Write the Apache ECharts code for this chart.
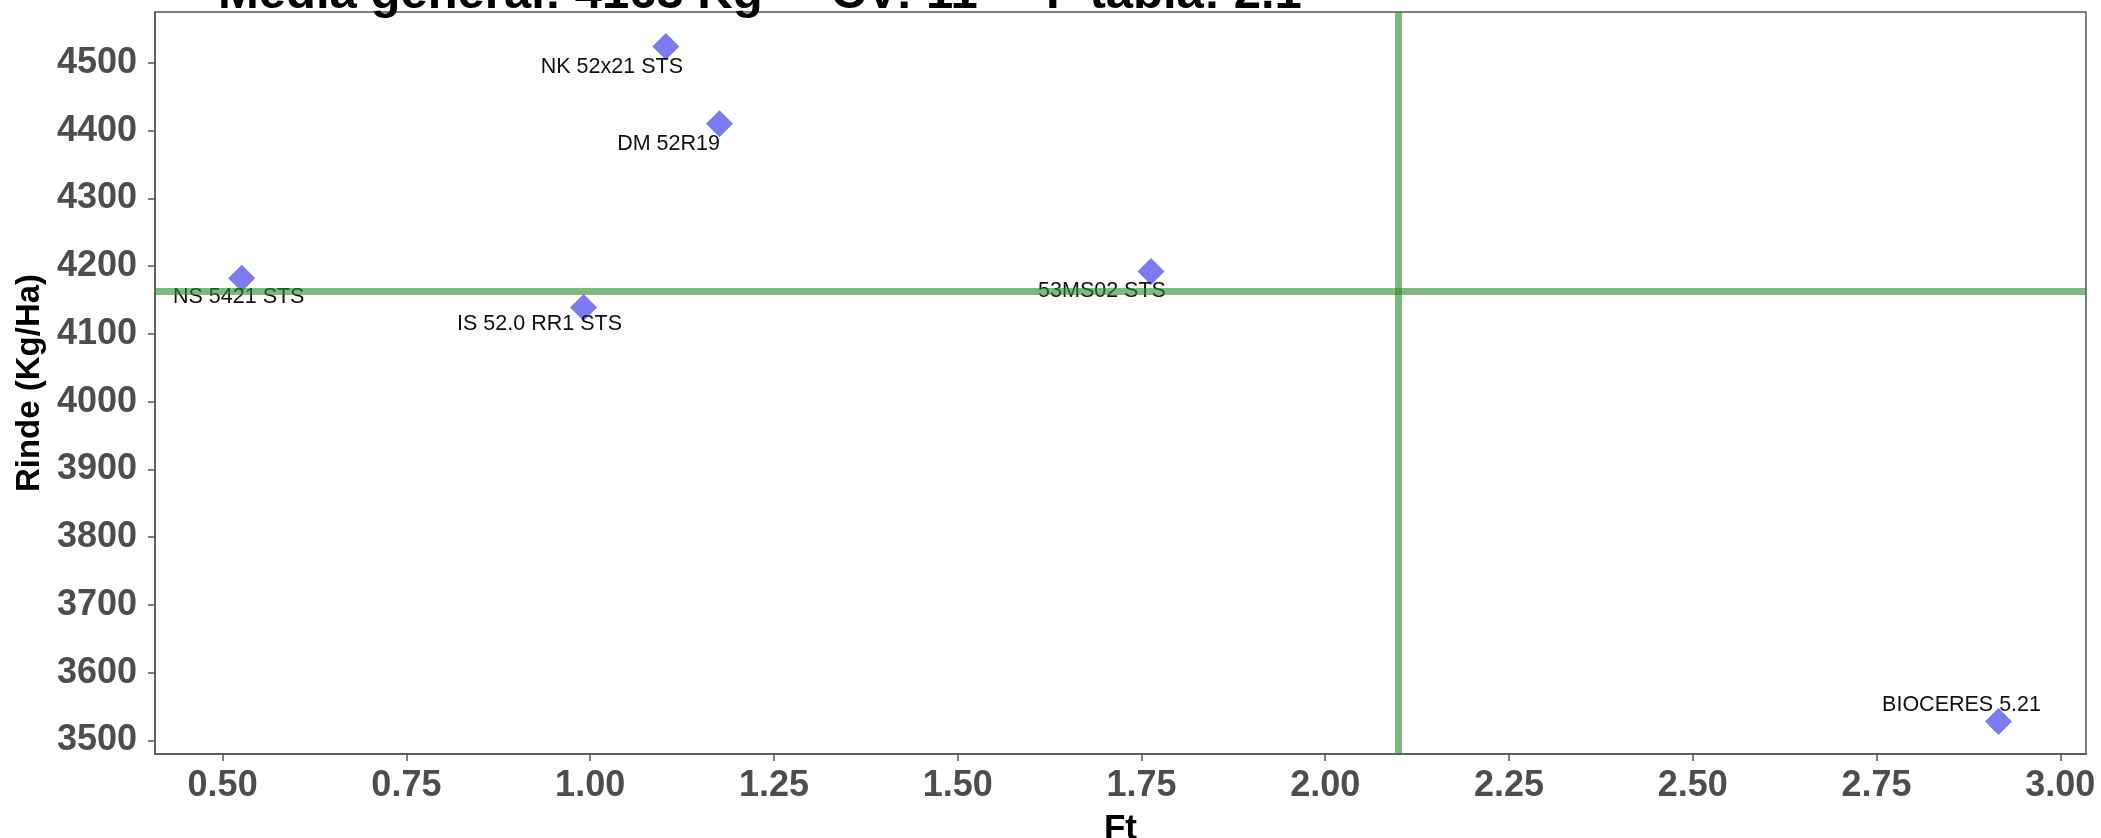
<!DOCTYPE html>
<html>
<head>
<meta charset="utf-8">
<script src="https://cdn.jsdelivr.net/npm/echarts@6/dist/echarts.min.js"></script>
<style>
html,body{margin:0;padding:0;background:#fff;}
#chart{width:2101px;height:838px;}
</style>
</head>
<body>
<div id="chart"></div>
<script>
// ---- data ----
const varieties = ['NK 52x21 STS', 'DM 52R19', 'NS 5421 STS', 'IS 52.0 RR1 STS', '53MS02 STS', 'BIOCERES 5.21'];
const ftValues = [1.103, 1.176, 0.526, 0.991, 1.763, 2.916];
const rindeValues = [4524, 4410, 4182, 4139, 4192, 3528];
const mediaGeneral = 4163;
const fTabla = 2.1;
const cv = 11;
const xTicks = [0.50, 0.75, 1.00, 1.25, 1.50, 1.75, 2.00, 2.25, 2.50, 2.75, 3.00];
const yTicks = [3500, 3600, 3700, 3800, 3900, 4000, 4100, 4200, 4300, 4400, 4500];

// ---- layout (label offsets from point centre, px) ----
const labelShift = [[-54, 21], [-51, 20], [-3, 19], [-44, 17], [-49, 20], [-37, -16]];
const SYMBOL = 27;

const FONT = "'Liberation Sans', Arial, sans-serif";
const chart = echarts.init(document.getElementById('chart'), null, {renderer: 'canvas'});

const points = varieties.map((n, i) => ({
  name: n,
  value: [ftValues[i], rindeValues[i]],
  label: {position: [SYMBOL / 2 + labelShift[i][0], SYMBOL / 2 + labelShift[i][1]]}
}));

chart.setOption({
  backgroundColor: '#ffffff',
  animation: false,
  title: {
    text: 'Media general: ' + mediaGeneral + ' Kg     CV: ' + cv + '     F tabla: ' + fTabla,
    left: 218,
    top: -30,
    padding: 0,
    textStyle: {fontFamily: FONT, fontWeight: 'bold', fontSize: 49, color: '#000', lineHeight: 49}
  },
  grid: {
    left: 155, right: 15, top: 12, bottom: 84,
    containLabel: false,
    outerBoundsMode: 'none',
    show: true, borderColor: '#555', borderWidth: 1.5, backgroundColor: '#fff'
  },
  xAxis: {
    type: 'value',
    min: 0.408, max: 3.035,
    name: 'Ft',
    nameLocation: 'middle',
    nameGap: 58,
    nameTextStyle: {fontFamily: FONT, fontWeight: 'bold', fontSize: 35, color: '#000'},
    splitLine: {show: false},
    axisLine: {show: true, onZero: false, lineStyle: {color: '#555', width: 1.5}},
    axisTick: {show: true, length: 7, customValues: xTicks, lineStyle: {color: '#555', width: 1.5}},
    axisLabel: {
      customValues: xTicks, margin: 14,
      formatter: v => v.toFixed(2),
      fontFamily: FONT, fontWeight: 'bold', fontSize: 36, color: '#4d4d4d'
    }
  },
  yAxis: {
    type: 'value',
    min: 3480, max: 4575,
    name: 'Rinde (Kg/Ha)',
    nameLocation: 'middle',
    nameGap: 103,
    nameTextStyle: {fontFamily: FONT, fontWeight: 'bold', fontSize: 33, color: '#000'},
    splitLine: {show: false},
    axisLine: {show: true, onZero: false, lineStyle: {color: '#555', width: 1.5}},
    axisTick: {show: true, length: 7, customValues: yTicks, lineStyle: {color: '#555', width: 1.5}},
    axisLabel: {
      customValues: yTicks, margin: 18,
      formatter: v => String(v),
      fontFamily: FONT, fontWeight: 'bold', fontSize: 36, color: '#4d4d4d'
    }
  },
  series: [
    {
      type: 'scatter',
      z: 1,
      data: [],
      silent: true,
      markLine: {
        silent: true,
        symbol: 'none',
        label: {show: false},
        lineStyle: {color: 'rgba(40,140,40,0.6)', width: 7, type: 'solid'},
        data: [{xAxis: fTabla}, {yAxis: mediaGeneral}]
      }
    },
    {
      type: 'scatter',
      z: 3,
      symbol: 'diamond',
      symbolSize: SYMBOL,
      itemStyle: {color: '#7b7bef', opacity: 1},
      data: points,
      label: {
        show: true,
        formatter: p => p.name,
        fontFamily: FONT,
        fontSize: 21.5,
        color: '#111',
        align: 'center',
        verticalAlign: 'middle'
      },
      labelLayout: {hideOverlap: false}
    }
  ]
});
</script>
</body>
</html>
